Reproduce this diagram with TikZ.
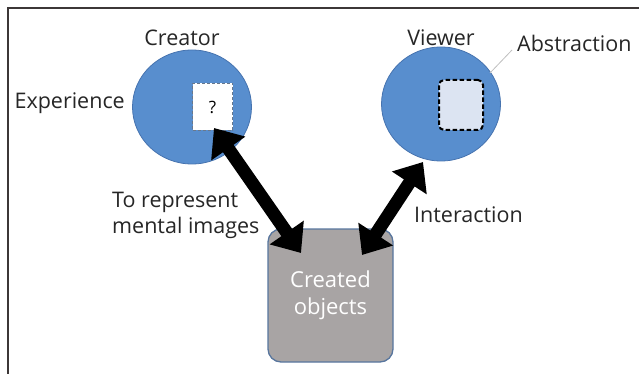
\documentclass[tikz,border=0pt]{standalone}
\usepackage{fontspec}
\setmainfont{Open Sans}
\usetikzlibrary{arrows.meta,shapes.geometric}
\definecolor{circblue}{RGB}{88,142,206}
\definecolor{circedge}{RGB}{70,115,175}
\definecolor{boxgray}{RGB}{168,164,164}
\definecolor{boxedge}{RGB}{88,118,158}
\definecolor{paleblue}{RGB}{220,228,242}
\definecolor{framecol}{RGB}{60,55,55}
\definecolor{dashgray}{RGB}{105,120,140}
\tikzset{
  lbl/.style={font=\fontsize{21.5}{26}\selectfont, text=black!85, inner sep=0pt},
  head/.style={ellipse, fill=circblue, draw=circedge, line width=0.8pt, minimum width=119pt, minimum height=114pt, inner sep=0pt},
  bigarrow/.style={line width=13pt, {Triangle[width=40pt,length=25pt]}-{Triangle[width=40pt,length=25pt]}},
}
\begin{document}
\begin{tikzpicture}[x=1pt,y=-1pt]
\useasboundingbox (0,0) rectangle (639,374);
% frame
\draw[framecol, line width=1.4pt] (8,374) -- (8,8) -- (639,8);
% heads
\node[head] (creator) at (192,107) {};
\node[head] (viewer) at (441,104) {};
% inner boxes
\node[draw=dashgray, fill=white, dash pattern=on 3pt off 2pt, line width=1.5pt, minimum width=40pt, minimum height=47pt, inner sep=0pt] (cbox) at (212.5,107) {\fontsize{17}{20}\selectfont ?};
\node[draw=black, fill=paleblue, dash pattern=on 4.5pt off 2.5pt, line width=2pt, rounded corners=5pt, minimum width=44pt, minimum height=50pt, inner sep=0pt] (vbox) at (461,105) {};
% created objects
\node[draw=boxedge, fill=boxgray, line width=1.3pt, rounded corners=13pt, minimum width=125pt, minimum height=133pt, inner sep=0pt, align=center, text=white, font=\fontsize{22}{27}\selectfont] (objects) at (330.5,295.5) {Created\\objects};
% labels
\node[lbl] (tcreator) at (182,38) {Creator};
\node[lbl] (tviewer) at (441,38) {Viewer};
\node[lbl, anchor=west] (tabs) at (517,43) {Abstraction};
\node[lbl, anchor=east] (texp) at (125,103) {Experience};
\node[lbl, anchor=west, align=left, font=\fontsize{21.5}{26}\selectfont] (trep) at (112,215) {To represent\\mental images};
\node[lbl, anchor=west] (tint) at (414,215) {Interaction};
% abstraction pointer
\coordinate (absA) at (490,73);
\coordinate (absB) at (512,50);
\draw[black!25, line width=0.8pt] (absA) -- (absB);
% arrows
\coordinate (l1) at (214,128);
\coordinate (l2) at (301,253);
\coordinate (r1) at (423,162);
\coordinate (r2) at (362,255);
\draw[bigarrow] (l1) -- (l2);
\draw[bigarrow] (r1) -- (r2);
\end{tikzpicture}
\end{document}
